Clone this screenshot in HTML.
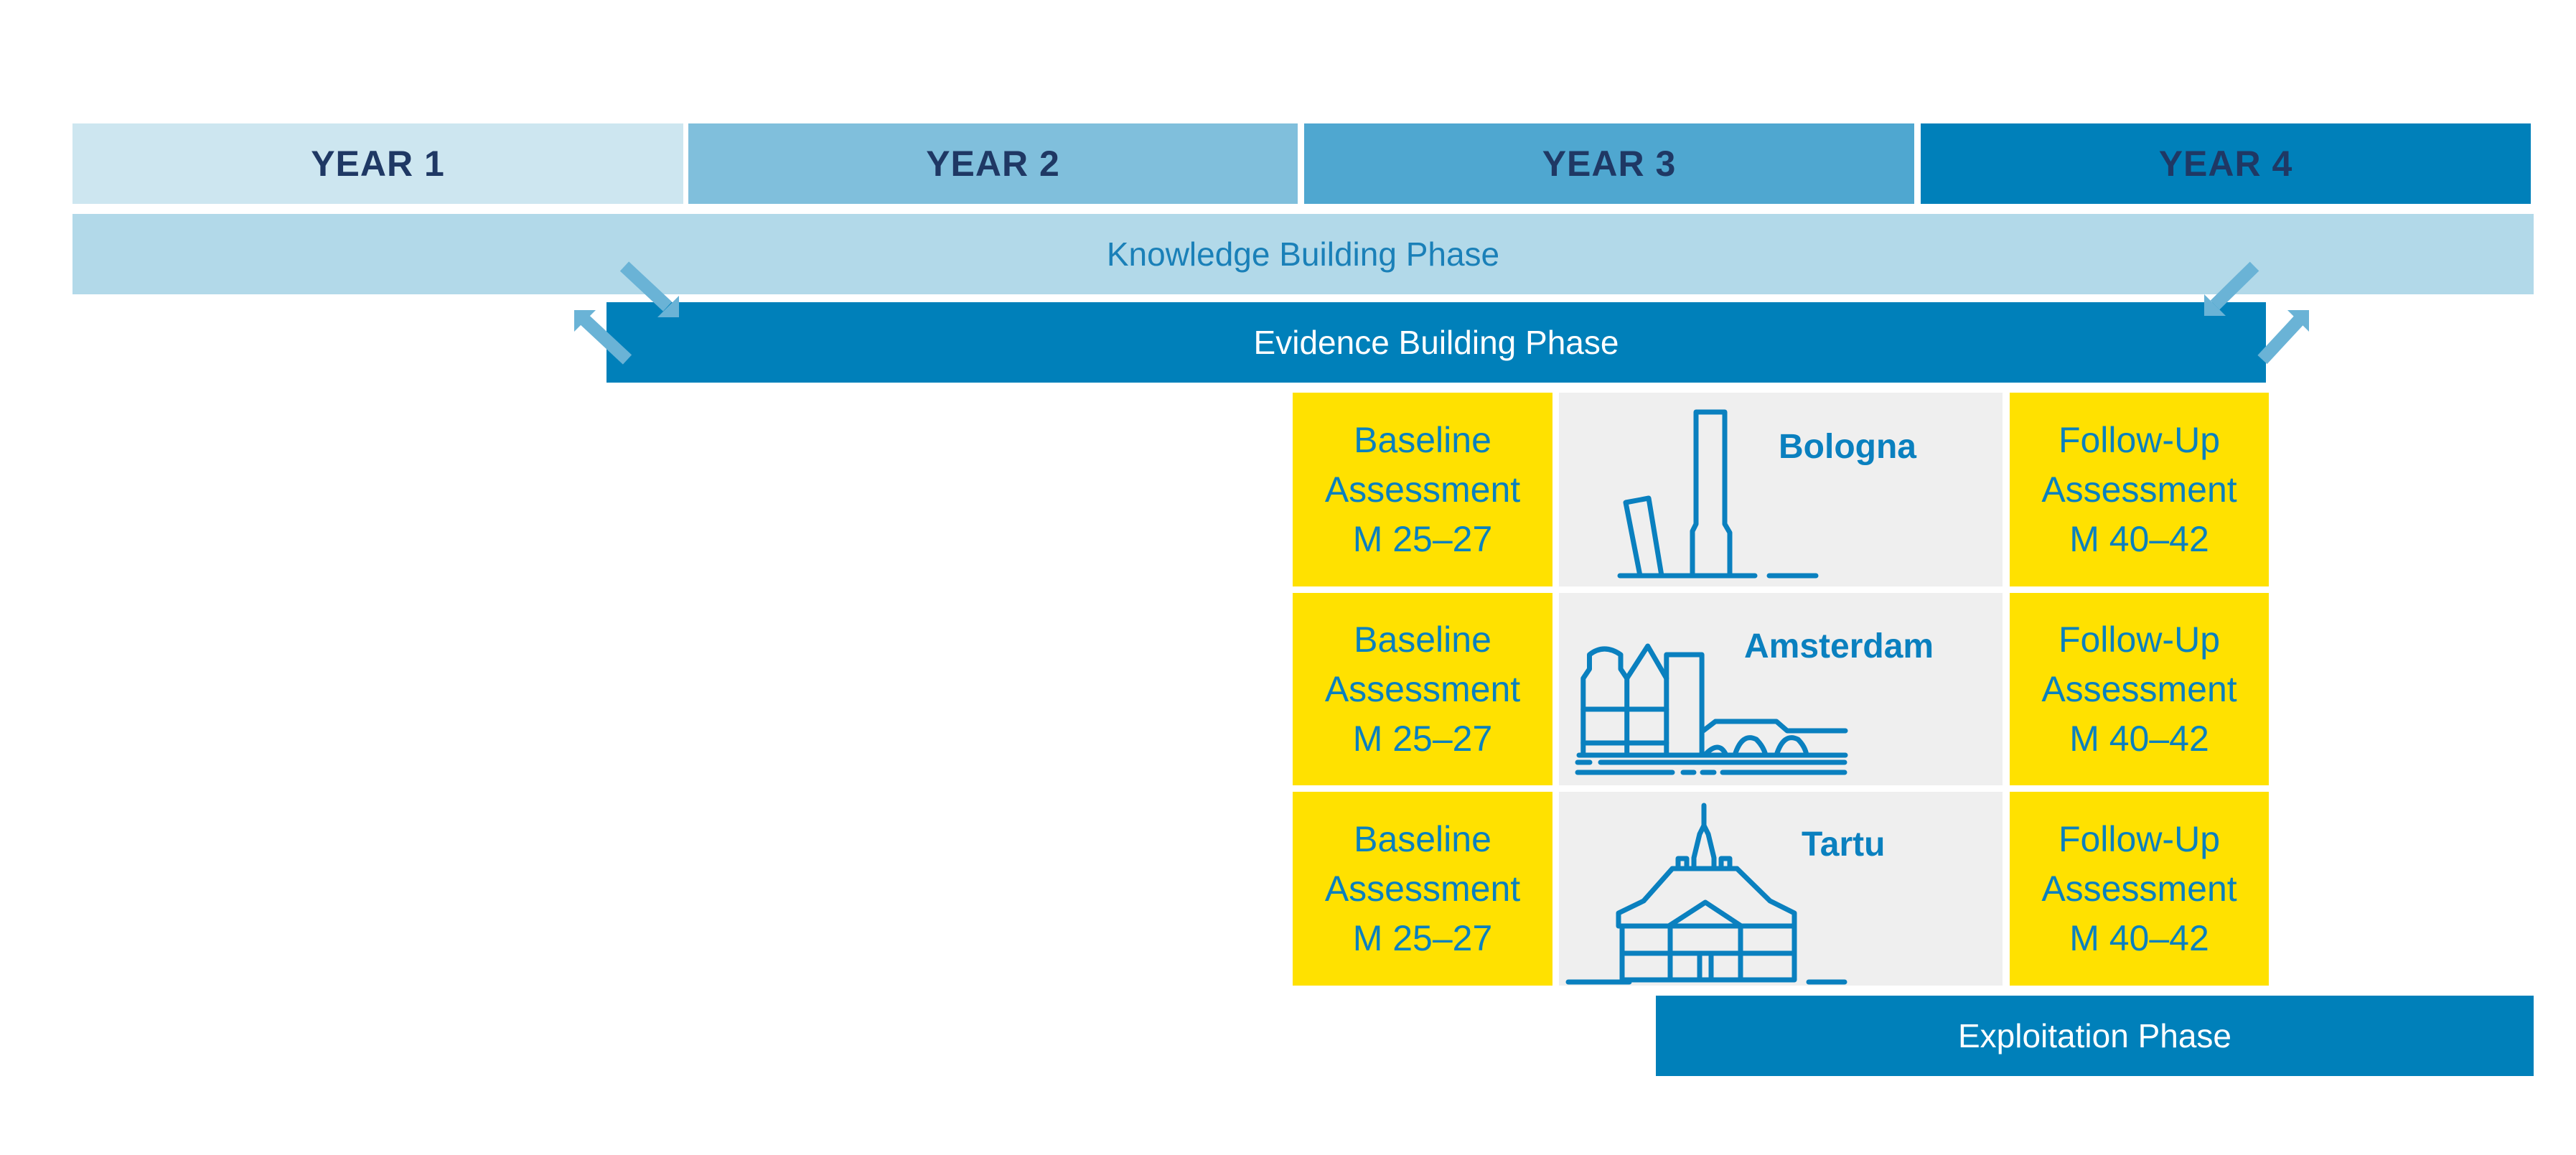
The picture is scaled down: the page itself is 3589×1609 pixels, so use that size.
<!DOCTYPE html>
<html><head><meta charset="utf-8"><style>
html,body{margin:0;padding:0;background:#fff}
body{width:3589px;height:1609px;position:relative;overflow:hidden;font-family:"Liberation Sans",sans-serif}
.b{position:absolute;display:flex;align-items:center;justify-content:center;box-sizing:border-box}
.yr{font-weight:bold;color:#1f3864;font-size:50px;top:172px;height:112px;letter-spacing:1px}
.ph{font-size:46px}
.y{background:#ffe100;color:#0a80bf;font-size:50px;line-height:69px;text-align:center;flex-direction:column}
.g{background:#efefef}
</style></head><body>
<div class="b yr" style="left:101px;width:851px;background:#cde6f0">YEAR 1</div>
<div class="b yr" style="left:959px;width:849px;background:#80bfdc">YEAR 2</div>
<div class="b yr" style="left:1817px;width:850px;background:#4fa7d0">YEAR 3</div>
<div class="b yr" style="left:2676px;width:850px;background:#0080ba">YEAR 4</div>
<div class="b ph" style="left:101px;width:3429px;top:298px;height:112px;background:#b2d9e9;color:#1a80b8">Knowledge Building Phase</div>
<div class="b ph" style="left:845px;width:2312px;top:421px;height:112px;background:#0080ba;color:#fff">Evidence Building Phase</div>

<div class="b y" style="left:1801px;width:362px;top:547px;height:270px"><div>Baseline<br>Assessment<br>M 25–27</div></div>
<div class="b y" style="left:1801px;width:362px;top:826px;height:268px"><div>Baseline<br>Assessment<br>M 25–27</div></div>
<div class="b y" style="left:1801px;width:362px;top:1103px;height:270px"><div>Baseline<br>Assessment<br>M 25–27</div></div>
<div class="b y" style="left:2800px;width:361px;top:547px;height:270px"><div>Follow-Up<br>Assessment<br>M 40–42</div></div>
<div class="b y" style="left:2800px;width:361px;top:826px;height:268px"><div>Follow-Up<br>Assessment<br>M 40–42</div></div>
<div class="b y" style="left:2800px;width:361px;top:1103px;height:270px"><div>Follow-Up<br>Assessment<br>M 40–42</div></div>
<div class="b g" style="left:2172px;width:618px;top:547px;height:270px"></div>
<div class="b g" style="left:2172px;width:618px;top:826px;height:268px"></div>
<div class="b g" style="left:2172px;width:618px;top:1103px;height:270px"></div>

<div class="b ph" style="left:2307px;width:1223px;top:1387px;height:112px;background:#0080ba;color:#fff">Exploitation Phase</div>

<svg style="position:absolute;left:0;top:0" width="3589" height="1609">
<g fill="#6ab3d6" stroke="none">
<line x1="870" y1="371" x2="930" y2="427" stroke="#6ab3d6" stroke-width="18"/>
<polygon points="946,442 946,412 916,442"/>
<line x1="874" y1="501" x2="815" y2="446" stroke="#6ab3d6" stroke-width="18"/>
<polygon points="800,432 800,462 830,432"/>
<line x1="3141" y1="371" x2="3086" y2="425" stroke="#6ab3d6" stroke-width="18"/>
<polygon points="3071,440 3071,410 3101,440"/>
<line x1="3152" y1="501" x2="3203" y2="446" stroke="#6ab3d6" stroke-width="18"/>
<polygon points="3217,432 3217,462 3187,432"/>
</g>
<g font-family="Liberation Sans,sans-serif" font-weight="bold" font-size="48" fill="#0a80bf">
<text x="2478" y="638">Bologna</text>
<text x="2430" y="916">Amsterdam</text>
<text x="2510" y="1192">Tartu</text>
</g>
<g fill="none" stroke="#0a80bf" stroke-width="7" stroke-linejoin="round" stroke-linecap="round">
<!-- Bologna -->
<path d="M2358,802 V740 L2363,730 V574 H2403 V730 L2410,742 V802"/>
<path d="M2285,802 L2265,700 L2297,694 L2315,802"/>
<path d="M2257,802 H2445 M2465,802 H2530"/>
<!-- Amsterdam -->
<g transform="translate(2200,0) scale(1.45,1) translate(-2200,0)">
<path vector-effect="non-scaling-stroke" d="M2204,1050 V945 L2210,932 V912 Q2224,896 2240,912 V932 L2246,945 V1050"/>
<path vector-effect="non-scaling-stroke" d="M2246,945 L2266,900 L2284,945 V1050"/>
<path vector-effect="non-scaling-stroke" d="M2284,945 V912 H2318 V1050"/>
<path vector-effect="non-scaling-stroke" d="M2204,988 H2284 M2204,1035 H2284"/>
</g>
<g transform="translate(55,0)">
<path d="M2318,1018 L2335,1005 H2420 L2435,1018 H2516"/>
<path d="M2320,1052 Q2340,1030 2350,1052 M2362,1052 Q2372,1020 2392,1030 Q2402,1040 2405,1052 M2420,1052 Q2430,1020 2450,1030 Q2460,1040 2462,1052 M2470,1052 H2516"/>
</g>
<path d="M2200,1052 H2570"/>
<path d="M2198,1062 H2215 M2230,1062 H2570"/>
<path d="M2198,1076 H2330 M2345,1076 H2360 M2372,1076 H2388 M2400,1076 H2570"/>
<!-- Tartu -->
<path d="M2374,1122 V1150 L2368,1162 L2360,1195 V1210 M2374,1150 L2380,1162 L2388,1195 V1210"/>
<path d="M2330,1210 H2420 M2338,1210 V1196 H2350 V1210 M2398,1210 V1196 H2410 V1210"/>
<path d="M2330,1210 L2290,1255 L2255,1272 V1290 H2500 V1272 L2466,1255 L2420,1210"/>
<path d="M2325,1290 L2376,1257 L2426,1290"/>
<path d="M2260,1290 V1365 H2500 V1290"/>
<path d="M2327,1290 V1365 M2425,1290 V1365 M2260,1328 H2500 M2368,1328 V1365 M2384,1328 V1365"/>
<path d="M2185,1368 H2270 M2520,1368 H2570"/>
</g>
</svg>
</body></html>
